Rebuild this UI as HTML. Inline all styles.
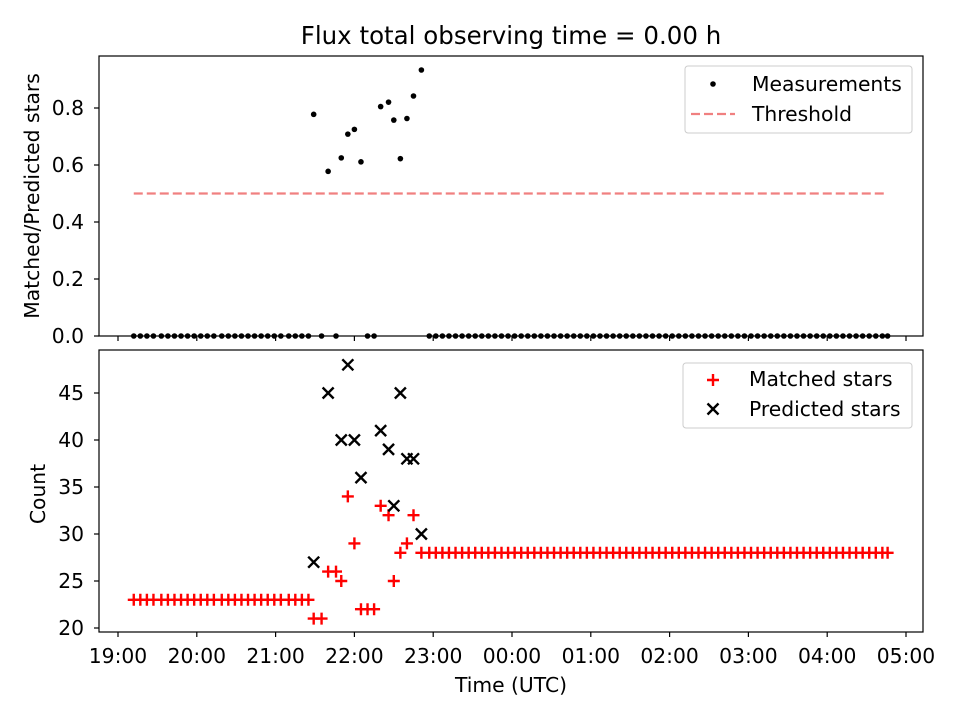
<!DOCTYPE html>
<html><head><meta charset="utf-8"><style>
body{margin:0;background:#fff}
svg text{font-family:"DejaVu Sans","Liberation Sans",sans-serif;fill:#000}
</style></head><body>
<svg id="chart" width="960" height="720" viewBox="0 0 960 720" xmlns="http://www.w3.org/2000/svg">
<rect width="960" height="720" fill="#fff"/>
<text x="511" y="44" font-size="24.5" text-anchor="middle">Flux total observing time = 0.00 h</text>
<g id="topg"></g><g id="botg"></g>
</svg>
<script>
// minutes after 19:00 UTC
const times=[12,17,22,27,33,38,43,48,53,58,63,68,73,79,84,89,94,99,104,109,114,119,124,130,135,140,145,
149,155,160,166,170,175,180,185,190,195,200,206,210,215,220,225,231,
237,242,247,252,257,262,267,272,277,282,287,292,297,302,307,312,317,322,327,332,337,342,347,352,357,362,367,372,377,382,387,392,397,402,407,412,417,422,427,432,437,442,447,452,457,462,467,472,477,482,487,492,497,502,507,512,517,522,527,532,537,542,547,552,557,562,567,572,577,582,586];
const matched=[23,23,23,23,23,23,23,23,23,23,23,23,23,23,23,23,23,23,23,23,23,23,23,23,23,23,23,
21,21,26,26,25,34,29,22,22,22,33,32,25,28,29,32,28,
28,28,28,28,28,28,28,28,28,28,28,28,28,28,28,28,28,28,28,28,28,28,28,28,28,28,28,28,28,28,28,28,28,28,28,28,28,28,28,28,28,28,28,28,28,28,28,28,28,28,28,28,28,28,28,28,28,28,28,28,28,28,28,28,28,28,28,28,28,28,28,28,28];
const predicted=[0,0,0,0,0,0,0,0,0,0,0,0,0,0,0,0,0,0,0,0,0,0,0,0,0,0,0,
27,0,45,0,40,48,40,36,0,0,41,39,33,45,38,38,30];
const threshold=0.5;
const hourLabels=["19:00","20:00","21:00","22:00","23:00","00:00","01:00","02:00","03:00","04:00","05:00"];
const topTicks=[0,0.2,0.4,0.6,0.8];
const botTicks=[20,25,30,35,40,45];

const NS="http://www.w3.org/2000/svg";
function el(tag,attrs,parent,txt){const e=document.createElementNS(NS,tag);for(const k in attrs)e.setAttribute(k,attrs[k]);if(txt!==undefined)e.textContent=txt;parent.appendChild(e);return e;}
const X0=99,X1=923;
const FS=20.3;
const xs=m=>118+m*78.8/60;
const yTop=v=>336-v*285;
const yBot=v=>628-(v-20)*9.4;
const topG=document.getElementById('topg'),botG=document.getElementById('botg');

const th=el('line',{x1:xs(times[0]),x2:xs(times[times.length-1]),y1:yTop(threshold),y2:yTop(threshold),stroke:'#f08080','stroke-width':2.2,'stroke-dasharray':'9,4'},topG);


times.forEach((t,i)=>{const p=predicted[i]||0;const r=p>0?matched[i]/p:0;
 const c=el('circle',{cx:xs(t),cy:yTop(r),r:2.8,fill:'#000'},topG);
 
 });
times.forEach((t,i)=>{const x=xs(t),y=yBot(matched[i]);
 const g=el('path',{d:`M${x-6},${y}H${x+6}M${x},${y-6}V${y+6}`,stroke:'#f00','stroke-width':2.4},botG);
 
 
 const p=predicted[i]||0;
 if(p>0){const py=yBot(p);
  const q=el('path',{d:`M${x-5.5},${py-5.5}L${x+5.5},${py+5.5}M${x-5.5},${py+5.5}L${x+5.5},${py-5.5}`,stroke:'#000','stroke-width':2.4},botG);
  
  }
});
const f1=el('rect',{x:X0,y:56,width:X1-X0,height:280,fill:'none',stroke:'#000','stroke-width':1.2},topG);


const f2=el('rect',{x:X0,y:350,width:X1-X0,height:282,fill:'none',stroke:'#000','stroke-width':1.2},botG);


hourLabels.forEach((h,i)=>{const x=xs(i*60);
 el('line',{x1:x,x2:x,y1:336,y2:341,stroke:'#000','stroke-width':1.2},topG);
 el('line',{x1:x,x2:x,y1:632,y2:637,stroke:'#000','stroke-width':1.2},botG);
 const t=el('text',{x:x,y:663,'font-size':FS,'text-anchor':'middle'},botG,h);
 
 });
topTicks.forEach(v=>{const y=yTop(v);
 el('line',{x1:X0-5,x2:X0,y1:y,y2:y,stroke:'#000','stroke-width':1.2},topG);
 const t=el('text',{x:X0-15,y:y+7,'font-size':FS,'text-anchor':'end'},topG,v.toFixed(1));
 
 });
botTicks.forEach(v=>{const y=yBot(v);
 el('line',{x1:X0-5,x2:X0,y1:y,y2:y,stroke:'#000','stroke-width':1.2},botG);
 const t=el('text',{x:X0-15,y:y+7,'font-size':FS,'text-anchor':'end'},botG,String(v));
 
 });
const a1=el('text',{x:39,y:196,'font-size':FS,'text-anchor':'middle',transform:'rotate(-90 39 196)'},topG,'Matched/Predicted stars');


const a2=el('text',{x:45,y:494,'font-size':FS,'text-anchor':'middle',transform:'rotate(-90 45 494)'},botG,'Count');


const a3=el('text',{x:511,y:692,'font-size':FS,'text-anchor':'middle'},botG,'Time (UTC)');


const l1=el('g',{},topG);


el('rect',{x:685,y:66,width:227,height:67,rx:3,fill:'#fff','fill-opacity':0.8,stroke:'#ccc'},l1);
el('circle',{cx:713,cy:84,r:2.8,fill:'#000'},l1);
el('text',{x:752,y:91,'font-size':FS},l1,'Measurements');
el('line',{x1:691,x2:735,y1:114,y2:114,stroke:'#f08080','stroke-width':2.2,'stroke-dasharray':'9,4'},l1);
el('text',{x:752,y:121,'font-size':FS},l1,'Threshold');
const l2=el('g',{},botG);


el('rect',{x:683,y:363,width:229,height:65,rx:3,fill:'#fff','fill-opacity':0.8,stroke:'#ccc'},l2);
el('path',{d:'M707,380H719M713,374V386',stroke:'#f00','stroke-width':2.4},l2);
el('text',{x:749,y:386,'font-size':FS},l2,'Matched stars');
el('path',{d:'M707.5,403.5L718.5,414.5M707.5,414.5L718.5,403.5',stroke:'#000','stroke-width':2.4},l2);
el('text',{x:749,y:416,'font-size':FS},l2,'Predicted stars');
</script>
</body></html>
